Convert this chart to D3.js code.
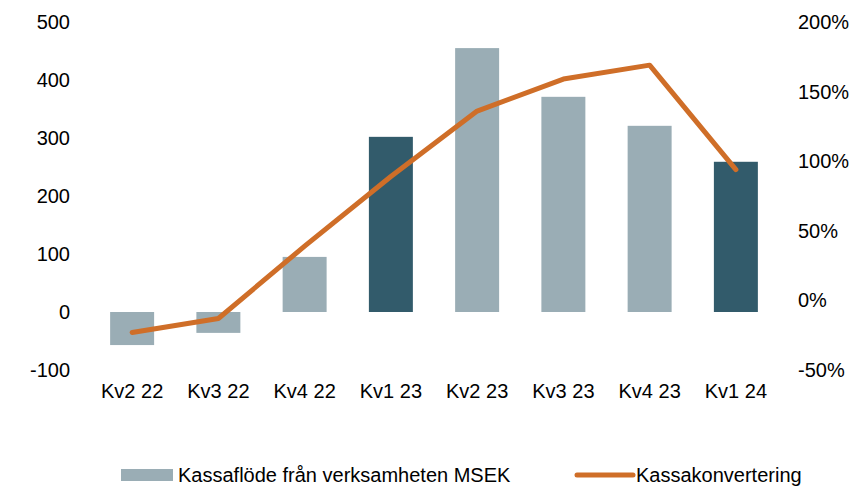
<!DOCTYPE html>
<html><head><meta charset="utf-8">
<script src="https://cdn.jsdelivr.net/npm/d3@7"></script>
<style>body{margin:0;background:#fff}text{font-family:"Liberation Sans",Arial,sans-serif;fill:#000}</style>
</head><body><svg id="c" width="853" height="486"></svg>
<script>
const categories = ["Kv2 22","Kv3 22","Kv4 22","Kv1 23","Kv2 23","Kv3 23","Kv4 23","Kv1 24"];
const cashFlow = [-57, -36, 95, 302, 455, 371, 321, 259];
const highlighted = [false, false, false, true, false, false, false, true];
const conversion = [-23, -13, 39, 89, 136, 159, 169, 94];
const leftTicks = [-100, 0, 100, 200, 300, 400, 500];
const rightTicks = [-50, 0, 50, 100, 150, 200];
const seriesNames = ["Kassaflöde från verksamheten MSEK", "Kassakonvertering"];

const svg = d3.select("#c");
const fs = 20;
const x = d3.scaleBand().domain(categories).range([89, 779]).paddingInner(0.49).paddingOuter(0.245);
const yL = d3.scaleLinear().domain([-100, 500]).range([370, 22]);
const yR = d3.scaleLinear().domain([-50, 200]).range([370, 22]);

const light = "#9aadb5", dark = "#325b6b", orange = "#cf6e28";

// bars
svg.append("g").selectAll("rect").data(cashFlow).join("rect")
  .attr("x", (d,i) => x(categories[i]))
  .attr("width", x.bandwidth())
  .attr("y", d => yL(Math.max(0, d)))
  .attr("height", d => Math.abs(yL(d) - yL(0)))
  .attr("fill", (d,i) => highlighted[i] ? dark : light);

// line
const line = d3.line().x((d,i) => x(categories[i]) + x.bandwidth()/2).y(d => yR(d));
svg.append("path").datum(conversion).attr("d", line)
  .attr("fill", "none").attr("stroke", orange).attr("stroke-width", 5)
  .attr("stroke-linejoin", "round").attr("stroke-linecap", "round");

// left axis
const gl = svg.append("g").attr("transform", "translate(70,0)")
  .call(d3.axisLeft(yL).tickValues(leftTicks).tickSize(0).tickPadding(0).tickFormat(d => String(d)));
gl.select(".domain").remove();
gl.selectAll("text").style("font-size", fs + "px");

// right axis
const gr = svg.append("g").attr("transform", "translate(798,0)")
  .call(d3.axisRight(yR).tickValues(rightTicks).tickSize(0).tickPadding(0).tickFormat(d => d + "%"));
gr.select(".domain").remove();
gr.selectAll("text").style("font-size", fs + "px");

// x axis labels
const gx = svg.append("g").attr("transform", "translate(0,384)")
  .call(d3.axisBottom(x).tickSize(0).tickPadding(0));
gx.select(".domain").remove();
gx.selectAll("text").style("font-size", fs + "px").attr("dy", "0.71em");

// legend
const lg = svg.append("g");
lg.append("rect").attr("x", 121).attr("y", 469).attr("width", 52).attr("height", 12).attr("fill", light);
lg.append("text").attr("x", 178).attr("y", 482).style("font-size", fs + "px").text(seriesNames[0]);
lg.append("line").attr("x1", 577).attr("x2", 633).attr("y1", 475).attr("y2", 475)
  .attr("stroke", orange).attr("stroke-width", 5).attr("stroke-linecap", "round");
lg.append("text").attr("x", 636).attr("y", 482).style("font-size", fs + "px").text(seriesNames[1]);
</script></body></html>
